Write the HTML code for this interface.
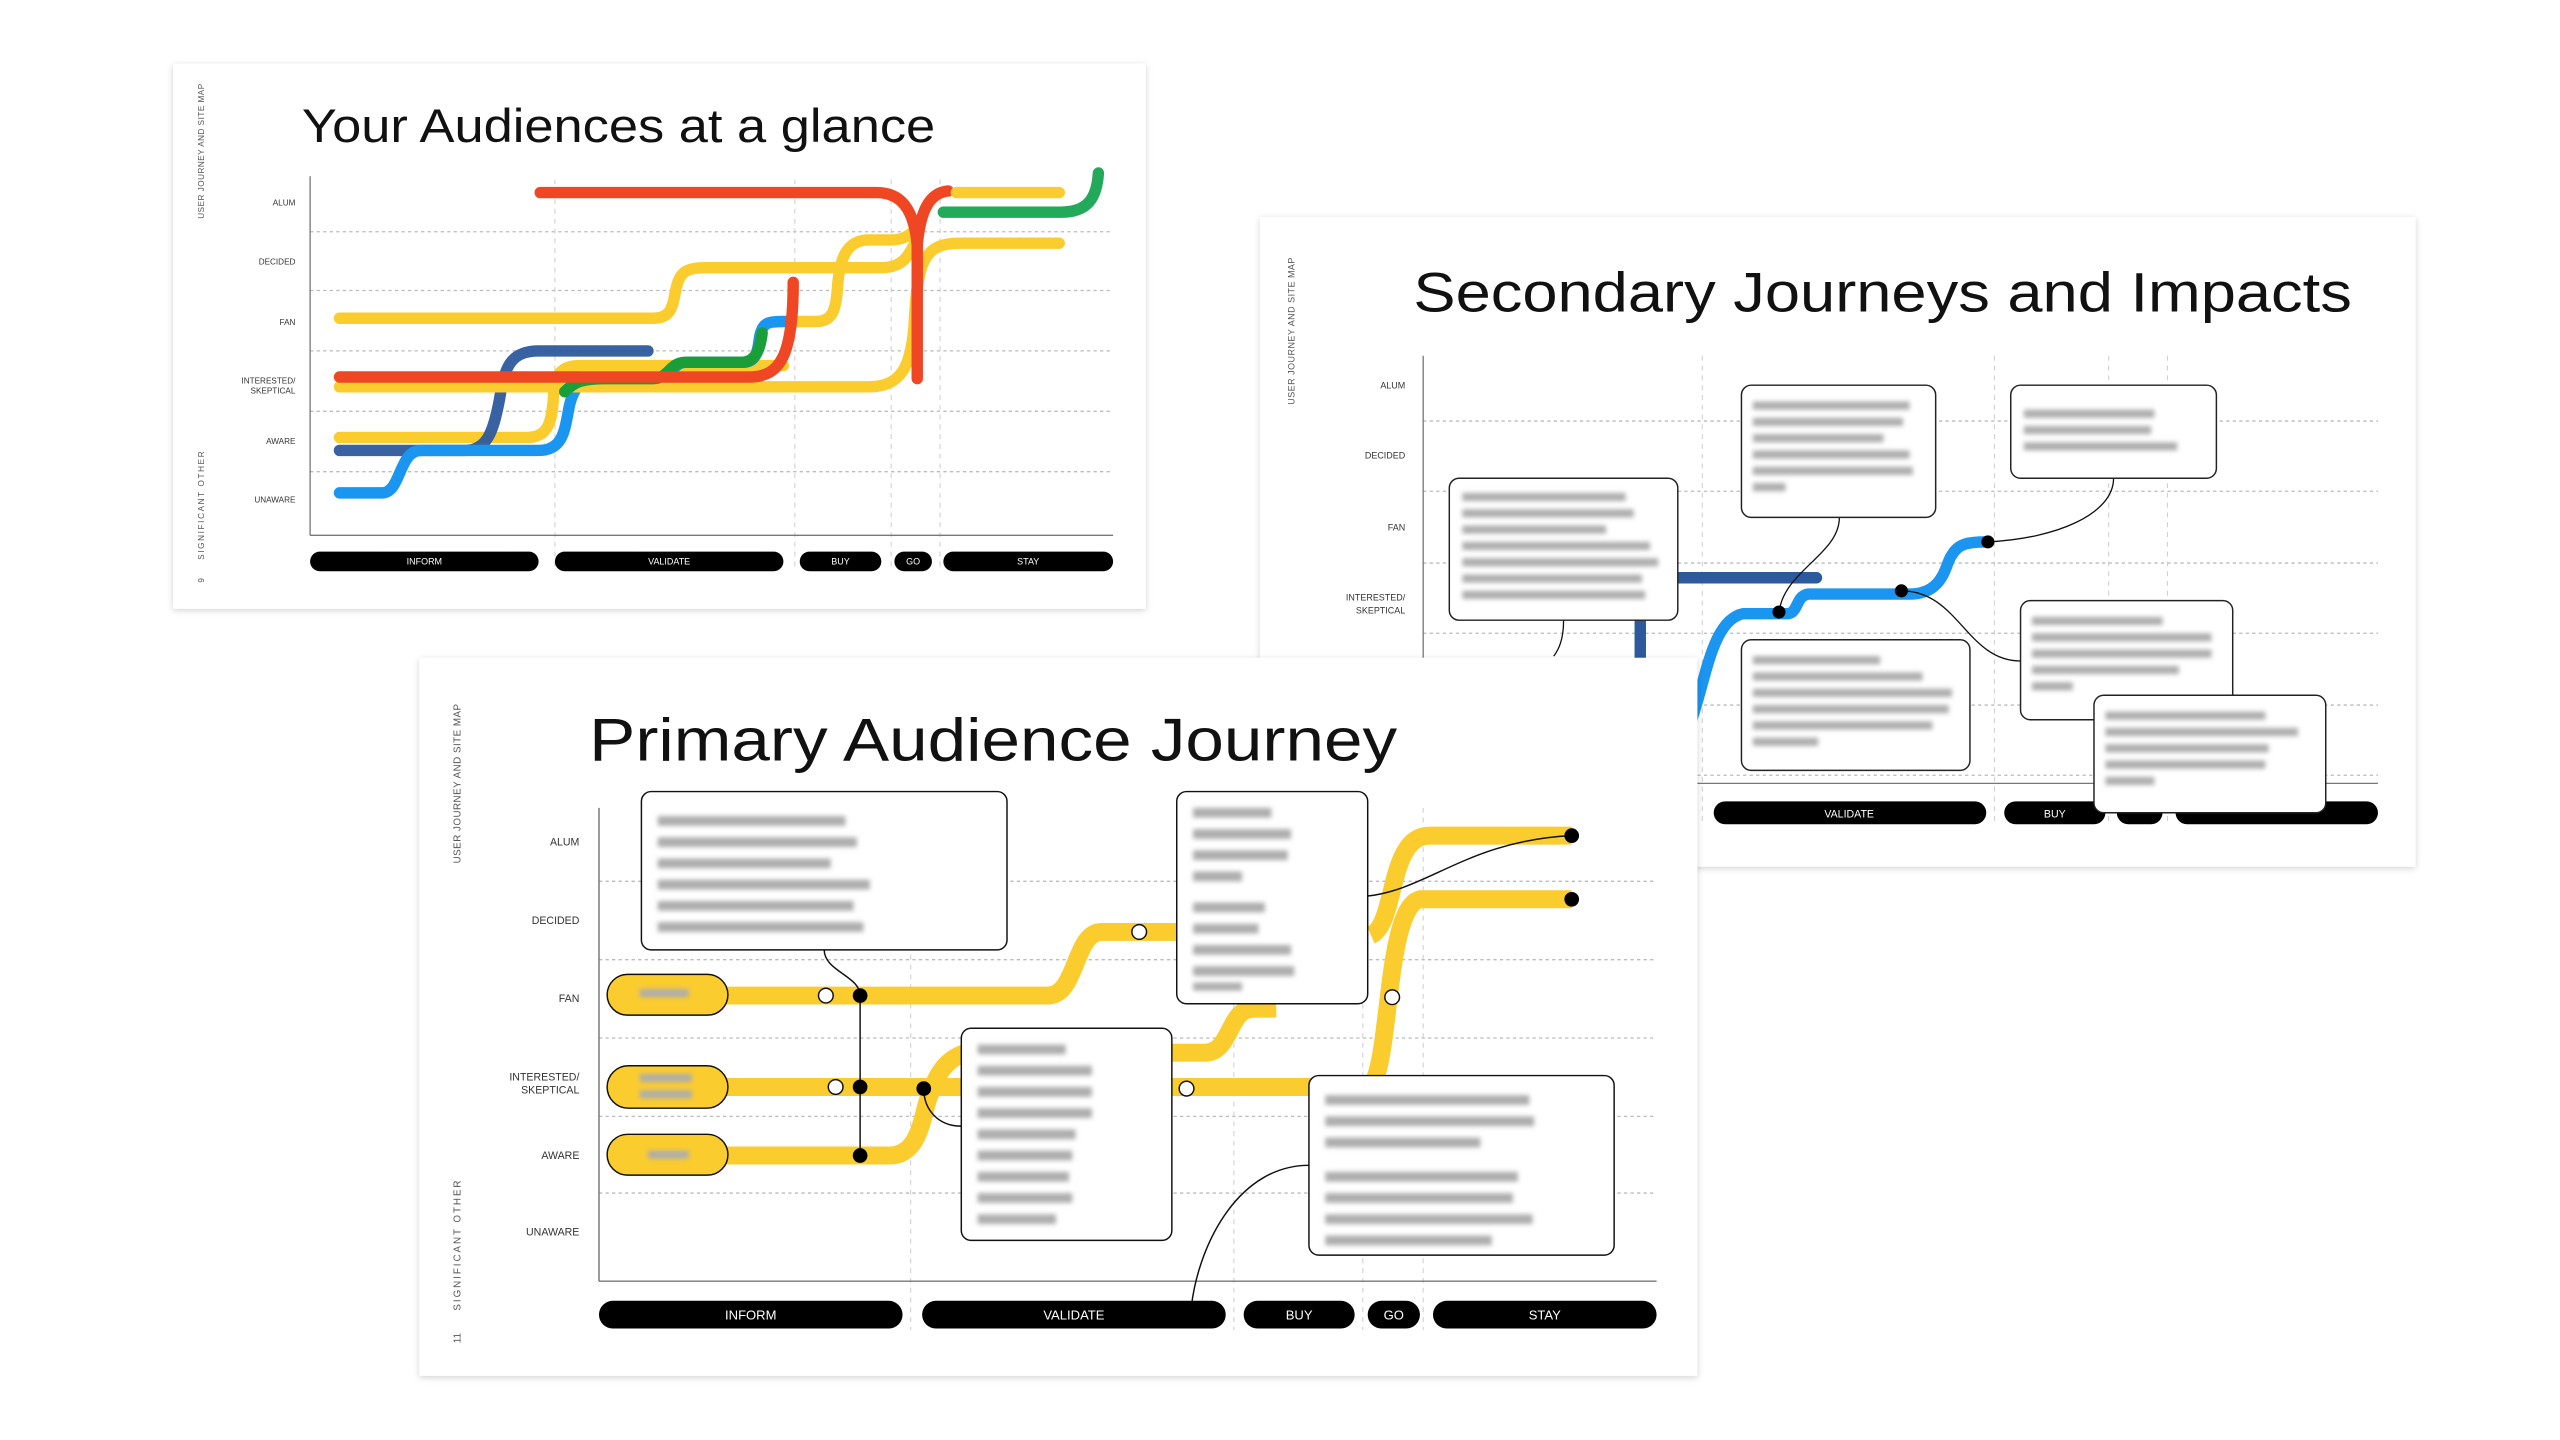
<!DOCTYPE html>
<html><head><meta charset="utf-8"><style>
html,body{margin:0;padding:0;background:#fff;width:2560px;height:1440px;overflow:hidden}
svg{display:block}
text{font-family:"Liberation Sans",sans-serif}
</style></head><body>
<svg width="2560" height="1440" viewBox="0 0 1568.5 882.3" preserveAspectRatio="xMinYMin meet" xmlns="http://www.w3.org/2000/svg">
<defs>
<filter id="sh" x="-5%" y="-5%" width="110%" height="110%"><feDropShadow dx="0" dy="1" stdDeviation="2" flood-color="#000" flood-opacity="0.18"/></filter>
<filter id="bl"><feGaussianBlur stdDeviation="1.4"/></filter>
</defs>
<rect width="1568.5" height="882.3" fill="#fff"/>

<!-- ============ SLIDE 1 ============ -->
<g>
<rect x="106" y="39" width="596" height="334" fill="#fff" filter="url(#sh)"/>
<text x="185" y="87" font-size="29" fill="#111" textLength="388" lengthAdjust="spacingAndGlyphs">Your Audiences at a glance</text>
<text transform="translate(125,134) rotate(-90)" font-size="5" fill="#555" letter-spacing="0.3">USER JOURNEY AND SITE MAP</text>
<text transform="translate(125,343) rotate(-90)" font-size="5" fill="#555" letter-spacing="1">SIGNIFICANT  OTHER</text>
<text transform="translate(125,357) rotate(-90)" font-size="5" fill="#555">9</text>
<g stroke="#bbb" stroke-width="0.8" stroke-dasharray="2,2">
<line x1="190" y1="142" x2="682" y2="142"/><line x1="190" y1="178" x2="682" y2="178"/><line x1="190" y1="215" x2="682" y2="215"/><line x1="190" y1="252" x2="682" y2="252"/><line x1="190" y1="289" x2="682" y2="289"/>
</g>
<g stroke="#ccc" stroke-width="0.6" stroke-dasharray="3,3">
<line x1="340" y1="110" x2="340" y2="350"/><line x1="487" y1="110" x2="487" y2="350"/><line x1="546" y1="110" x2="546" y2="350"/><line x1="576" y1="110" x2="576" y2="350"/>
</g>
<line x1="190" y1="108" x2="190" y2="328" stroke="#777" stroke-width="0.8"/>
<line x1="190" y1="328" x2="682" y2="328" stroke="#777" stroke-width="0.8"/>
<g font-size="5" fill="#333" text-anchor="end">
<text x="181" y="126">ALUM</text><text x="181" y="162">DECIDED</text><text x="181" y="199">FAN</text><text x="181" y="235">INTERESTED/</text><text x="181" y="241">SKEPTICAL</text><text x="181" y="272">AWARE</text><text x="181" y="308">UNAWARE</text>
</g>
<g fill="none" stroke-linecap="round" stroke-width="7">
<path d="M208,268 H323 C336,268 338,258 339,245 C340,228 344,224 356,224 H480" stroke="#fbcc2e"/>
<path d="M208,276 H284 C298,276 302,266 306,245 C309,226 312,215 330,215 H397" stroke="#2d5a9c" stroke-opacity="0.95"/>
<path d="M208,302 H234 C246,302 244,276 258,276 H330 C346,276 346,262 349,248 C352,236 356,232 372,232 H400 C412,232 412,222 420,222 H455 C466,222 464,210 466,204 C468,198 470,197 480,197 H486" stroke="#1a95f0"/>
<path d="M208,237 H532 C552,237 558,225 560,200 C562,160 566,149 588,149 H649" stroke="#fbcc2e"/>
<path d="M208,195 H400 C412,195 412,187 414,178 C416,167 420,164 432,164 H540 C552,164 556,158 560,150" stroke="#fbcc2e"/>
<path d="M486,197 H500 C510,197 512,190 513,178 C514,160 518,147 532,147 H546 C555,147 558,143 562,140" stroke="#fbcc2e"/>
<path d="M346,240 C352,234 356,232 372,232 H400 C410,232 410,222 420,222 H454 C464,222 466,212 467,204" stroke="#1a9e3a"/>
<path d="M208,231 H459 C478,231 486,218 486,173" stroke="#ef4623"/>
<path d="M331,118 H537 C552,118 560,128 562,150 V232" stroke="#ef4623"/>
<path d="M562,150 C564,128 570,118 581,117" stroke="#ef4623"/>
<path d="M586,118 H649" stroke="#fbcc2e"/>
<path d="M578,130 H650 C666,130 672,122 673,106" stroke="#22aa5a"/>
</g>
<g fill="#000"><rect x="190" y="338" width="140" height="12" rx="6"/><rect x="340" y="338" width="140" height="12" rx="6"/><rect x="490" y="338" width="50" height="12" rx="6"/><rect x="548" y="338" width="23" height="12" rx="6"/><rect x="578" y="338" width="104" height="12" rx="6"/></g>
<g fill="#fff" font-size="5.5" text-anchor="middle"><text x="260" y="346">INFORM</text><text x="410" y="346">VALIDATE</text><text x="515" y="346">BUY</text><text x="559.5" y="346">GO</text><text x="630" y="346">STAY</text></g>
</g>

<!-- ============ SLIDE 2 ============ -->
<g>
<rect x="772" y="133" width="708" height="398" fill="#fff" filter="url(#sh)"/>
<text x="866" y="191" font-size="34" fill="#111" textLength="575" lengthAdjust="spacingAndGlyphs">Secondary Journeys and Impacts</text>
<text transform="translate(793,248) rotate(-90)" font-size="5.5" fill="#555" letter-spacing="0.3">USER JOURNEY AND SITE MAP</text>
<g stroke="#bbb" stroke-width="0.8" stroke-dasharray="2,2">
<line x1="872" y1="258" x2="1457" y2="258"/><line x1="872" y1="301" x2="1457" y2="301"/><line x1="872" y1="345" x2="1457" y2="345"/><line x1="872" y1="388" x2="1457" y2="388"/><line x1="872" y1="432" x2="1457" y2="432"/><line x1="872" y1="475" x2="1457" y2="475"/>
</g>
<g stroke="#ccc" stroke-width="0.6" stroke-dasharray="3,3">
<line x1="1043" y1="218" x2="1043" y2="505"/><line x1="1222" y1="218" x2="1222" y2="505"/><line x1="1292" y1="218" x2="1292" y2="505"/><line x1="1328" y1="218" x2="1328" y2="505"/>
</g>
<line x1="872" y1="218" x2="872" y2="480" stroke="#777" stroke-width="0.8"/>
<line x1="872" y1="480" x2="1457" y2="480" stroke="#777" stroke-width="0.8"/>
<g font-size="5.5" fill="#333" text-anchor="end">
<text x="861" y="238">ALUM</text><text x="861" y="281">DECIDED</text><text x="861" y="325">FAN</text><text x="861" y="368">INTERESTED/</text><text x="861" y="376">SKEPTICAL</text>
</g>
<g fill="none" stroke-linecap="round" stroke-width="7">
<path d="M1005,420 V370 C1005,358 1012,354 1025,354 H1113" stroke="#2d5a9c"/>
<path d="M1035,445 C1045,420 1048,380 1068,376 H1095 C1102,376 1100,365 1108,364 H1170 C1192,364 1192,344 1196,340 C1200,333 1206,332 1218,332" stroke="#1a95f0"/>
</g>
<g fill="#000"><rect x="1050" y="491" width="167" height="14" rx="7"/><rect x="1228" y="491" width="62" height="14" rx="7"/><rect x="1297" y="491" width="28" height="14" rx="7"/><rect x="1333" y="491" width="124" height="14" rx="7"/></g>
<g fill="#fff" font-size="6.5" text-anchor="middle"><text x="1133" y="501">VALIDATE</text><text x="1259" y="501">BUY</text></g>
<g fill="none" stroke="#111" stroke-width="0.8">
<path d="M1127,317 C1127,340 1092,350 1090,376"/>
<path d="M1295,293 C1295,315 1260,330 1218,332"/>
<path d="M1165,362 C1200,362 1205,405 1238,405"/>
<path d="M958,380 C958,392 955,398 952,402"/>
</g>
<g fill="#000"><circle cx="1090" cy="375" r="4"/><circle cx="1165" cy="362" r="4"/><circle cx="1218" cy="332" r="4"/></g>
<g fill="#fff" stroke="#222" stroke-width="0.9">
<rect x="888" y="293" width="140" height="87" rx="6"/>
<rect x="1067" y="236" width="119" height="81" rx="6"/>
<rect x="1232" y="236" width="126" height="57" rx="6"/>
<rect x="1067" y="392" width="140" height="80" rx="6"/>
<rect x="1238" y="368" width="130" height="73" rx="6"/>
<rect x="1283" y="426" width="142" height="72" rx="6"/>
</g>
<g fill="#adadad" filter="url(#bl)">
<rect x="896" y="302" width="100" height="5"/><rect x="896" y="312" width="105" height="5"/><rect x="896" y="322" width="88" height="5"/><rect x="896" y="332" width="115" height="5"/><rect x="896" y="342" width="120" height="5"/><rect x="896" y="352" width="110" height="5"/><rect x="896" y="362" width="112" height="5"/>
<rect x="1074" y="246" width="96" height="5"/><rect x="1074" y="256" width="92" height="5"/><rect x="1074" y="266" width="80" height="5"/><rect x="1074" y="276" width="96" height="5"/><rect x="1074" y="286" width="98" height="5"/><rect x="1074" y="296" width="20" height="5"/>
<rect x="1240" y="251" width="80" height="5"/><rect x="1240" y="261" width="78" height="5"/><rect x="1240" y="271" width="94" height="5"/>
<rect x="1074" y="402" width="78" height="5"/><rect x="1074" y="412" width="104" height="5"/><rect x="1074" y="422" width="122" height="5"/><rect x="1074" y="432" width="120" height="5"/><rect x="1074" y="442" width="110" height="5"/><rect x="1074" y="452" width="40" height="5"/>
<rect x="1245" y="378" width="80" height="5"/><rect x="1245" y="388" width="110" height="5"/><rect x="1245" y="398" width="110" height="5"/><rect x="1245" y="408" width="90" height="5"/><rect x="1245" y="418" width="25" height="5"/>
<rect x="1290" y="436" width="98" height="5"/><rect x="1290" y="446" width="118" height="5"/><rect x="1290" y="456" width="100" height="5"/><rect x="1290" y="466" width="98" height="5"/><rect x="1290" y="476" width="30" height="5"/>
</g>
</g>

<!-- ============ SLIDE 3 ============ -->
<g>
<rect x="257" y="403" width="783" height="440" fill="#fff" filter="url(#sh)"/>
<text x="361" y="466" font-size="37" fill="#111" textLength="495" lengthAdjust="spacingAndGlyphs">Primary Audience Journey</text>
<text transform="translate(282,529) rotate(-90)" font-size="6" fill="#555" letter-spacing="0.3">USER JOURNEY AND SITE MAP</text>
<text transform="translate(282,803) rotate(-90)" font-size="6" fill="#555" letter-spacing="1.2">SIGNIFICANT  OTHER</text>
<text transform="translate(282,823) rotate(-90)" font-size="6" fill="#555">11</text>
<g stroke="#bbb" stroke-width="0.8" stroke-dasharray="2,2">
<line x1="367" y1="540" x2="1015" y2="540"/><line x1="367" y1="588" x2="1015" y2="588"/><line x1="367" y1="636" x2="1015" y2="636"/><line x1="367" y1="684" x2="1015" y2="684"/><line x1="367" y1="731" x2="1015" y2="731"/>
</g>
<g stroke="#ccc" stroke-width="0.6" stroke-dasharray="3,3">
<line x1="558" y1="495" x2="558" y2="815"/><line x1="756" y1="495" x2="756" y2="815"/><line x1="835" y1="495" x2="835" y2="815"/><line x1="872" y1="495" x2="872" y2="815"/>
</g>
<line x1="367" y1="495" x2="367" y2="785" stroke="#777" stroke-width="0.9"/>
<line x1="367" y1="785" x2="1015" y2="785" stroke="#777" stroke-width="0.9"/>
<g font-size="6.5" fill="#333" text-anchor="end">
<text x="355" y="518">ALUM</text><text x="355" y="566">DECIDED</text><text x="355" y="614">FAN</text><text x="355" y="662">INTERESTED/</text><text x="355" y="670">SKEPTICAL</text><text x="355" y="710">AWARE</text><text x="355" y="757">UNAWARE</text>
</g>
<g fill="none" stroke="#fbcc2e" stroke-width="11" stroke-linecap="butt">
<path d="M440,610 H642 C660,610 658,571 675,571 H725"/>
<path d="M440,666 H805"/>
<path d="M440,708 H545 C565,708 565,680 570,670 C575,655 582,648 592,645"/>
<path d="M718,645 H738 C755,645 752,618 768,618 H782"/>
<path d="M842,662 C852,640 850,556 870,551 H963"/>
<path d="M840,573 C856,566 850,512 876,512 H963"/>
</g>
<g fill="none" stroke="#111" stroke-width="0.9">
<line x1="527" y1="610" x2="527" y2="708"/>
<path d="M505,582 C505,595 527,598 527,610"/>
<path d="M566,667 C566,680 575,690 589,690"/>
<path d="M838,549 C875,545 900,515 963,512"/>
<path d="M802,714 C760,714 735,760 730,800"/>
</g>
<g fill="#000"><circle cx="527" cy="610" r="4.5"/><circle cx="527" cy="666" r="4.5"/><circle cx="527" cy="708" r="4.5"/><circle cx="566" cy="667" r="4.5"/><circle cx="963" cy="512" r="4.5"/><circle cx="963" cy="551" r="4.5"/></g>
<g fill="#fff" stroke="#111" stroke-width="0.9"><circle cx="506" cy="610" r="4.5"/><circle cx="512" cy="666" r="4.5"/><circle cx="698" cy="571" r="4.5"/><circle cx="727" cy="667" r="4.5"/><circle cx="853" cy="611" r="4.5"/></g>
<g fill="#fbcc2e" stroke="#111" stroke-width="0.9">
<rect x="372" y="597" width="74" height="25" rx="12.5"/><rect x="372" y="653" width="74" height="26" rx="13"/><rect x="372" y="695" width="74" height="25" rx="12.5"/>
</g>
<g fill="#fff" stroke="#111" stroke-width="0.9">
<rect x="393" y="485" width="224" height="97" rx="6"/>
<rect x="721" y="485" width="117" height="130" rx="6"/>
<rect x="589" y="630" width="129" height="130" rx="6"/>
<rect x="802" y="659" width="187" height="110" rx="6"/>
</g>
<g fill="#adadad" filter="url(#bl)">
<rect x="392" y="606" width="30" height="5"/><rect x="392" y="658" width="32" height="5"/><rect x="392" y="668" width="32" height="5"/><rect x="397" y="705" width="25" height="5"/>
<rect x="403" y="500" width="115" height="6"/><rect x="403" y="513" width="122" height="6"/><rect x="403" y="526" width="106" height="6"/><rect x="403" y="539" width="130" height="6"/><rect x="403" y="552" width="120" height="6"/><rect x="403" y="565" width="126" height="6"/>
<rect x="731" y="495" width="48" height="6"/><rect x="731" y="508" width="60" height="6"/><rect x="731" y="521" width="58" height="6"/><rect x="731" y="534" width="30" height="6"/><rect x="731" y="553" width="44" height="6"/><rect x="731" y="566" width="40" height="6"/><rect x="731" y="579" width="60" height="6"/><rect x="731" y="592" width="62" height="6"/><rect x="731" y="602" width="30" height="5"/>
<rect x="599" y="640" width="54" height="6"/><rect x="599" y="653" width="70" height="6"/><rect x="599" y="666" width="70" height="6"/><rect x="599" y="679" width="70" height="6"/><rect x="599" y="692" width="60" height="6"/><rect x="599" y="705" width="58" height="6"/><rect x="599" y="718" width="56" height="6"/><rect x="599" y="731" width="58" height="6"/><rect x="599" y="744" width="48" height="6"/>
<rect x="812" y="671" width="125" height="6"/><rect x="812" y="684" width="128" height="6"/><rect x="812" y="697" width="95" height="6"/><rect x="812" y="718" width="118" height="6"/><rect x="812" y="731" width="115" height="6"/><rect x="812" y="744" width="127" height="6"/><rect x="812" y="757" width="102" height="6"/>
</g>
<g fill="#000"><rect x="367" y="797" width="186" height="17" rx="8.5"/><rect x="565" y="797" width="186" height="17" rx="8.5"/><rect x="762" y="797" width="68" height="17" rx="8.5"/><rect x="838" y="797" width="32" height="17" rx="8.5"/><rect x="878" y="797" width="137" height="17" rx="8.5"/></g>
<g fill="#fff" font-size="8" text-anchor="middle"><text x="460" y="808.5">INFORM</text><text x="658" y="808.5">VALIDATE</text><text x="796" y="808.5">BUY</text><text x="854" y="808.5">GO</text><text x="946.5" y="808.5">STAY</text></g>
</g>
</svg>
</body></html>
